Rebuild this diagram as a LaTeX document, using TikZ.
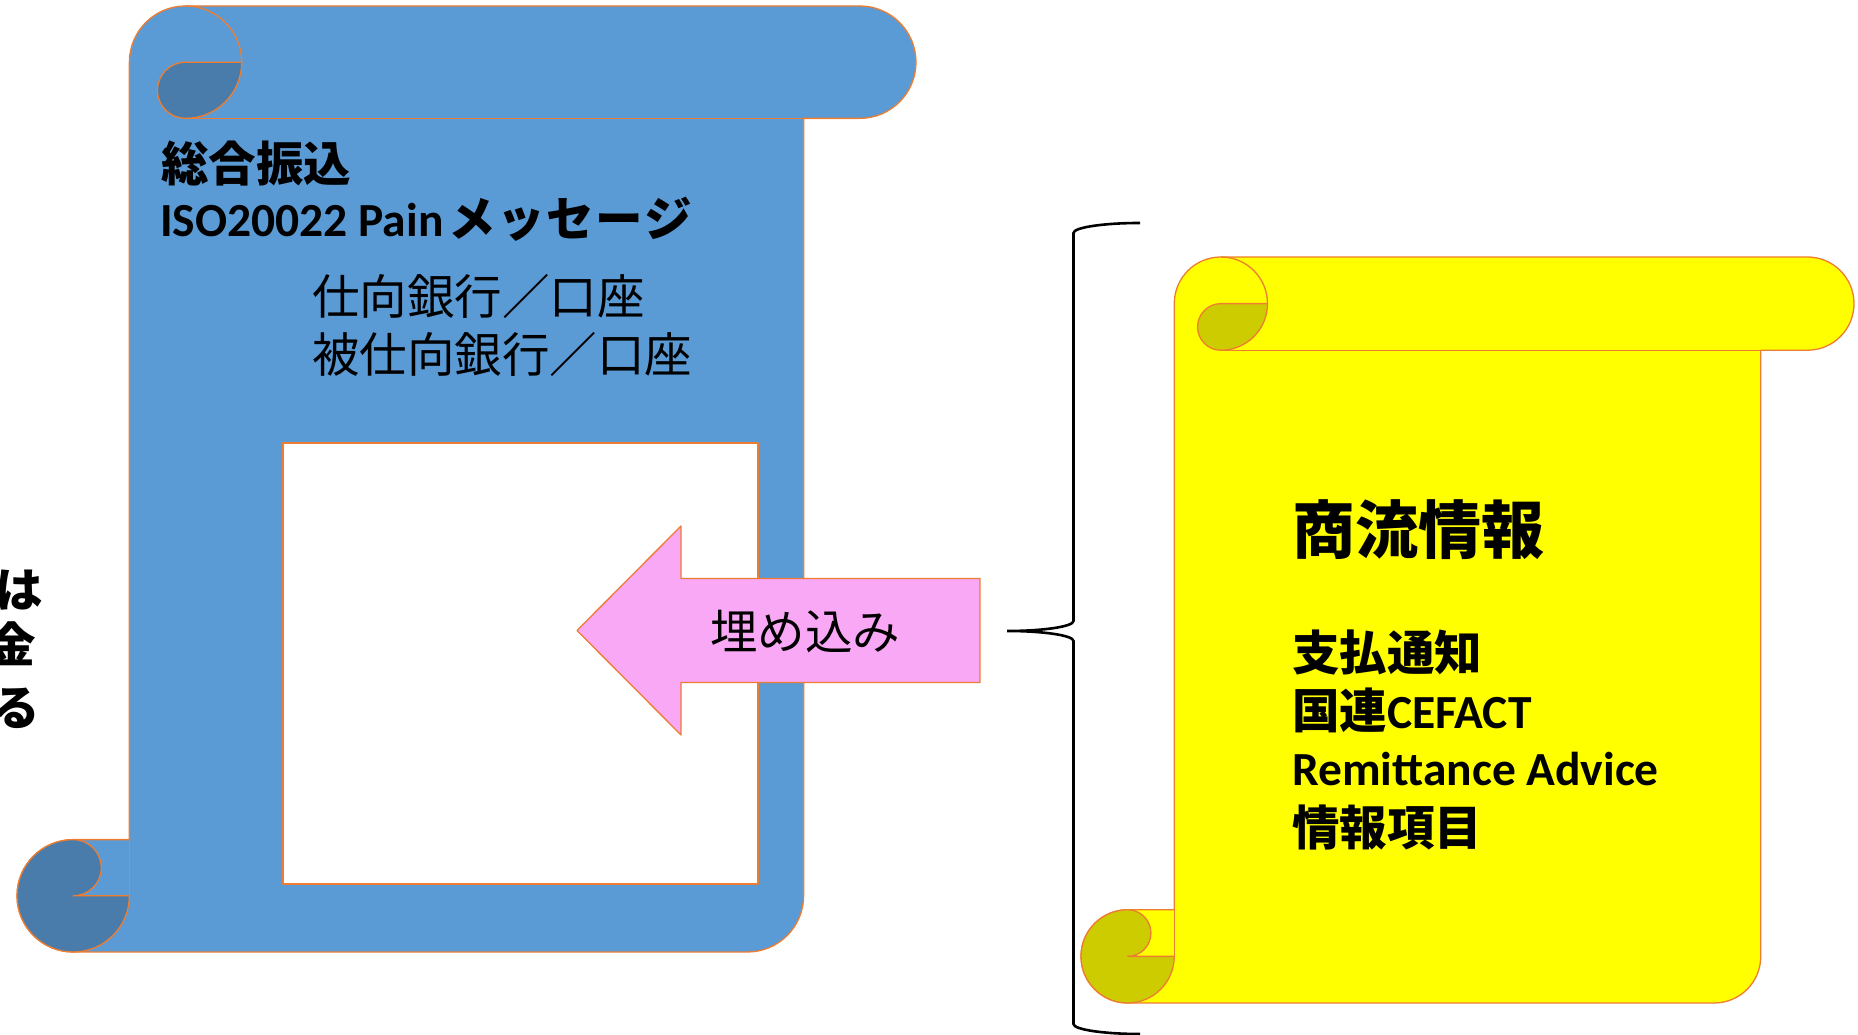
\documentclass[tikz,border=0pt]{standalone}
\usepackage{fontspec}
\newfontfamily\jp{Noto Sans CJK JP}
\newfontfamily\lat{Carlito}
\definecolor{sblue}{HTML}{5B9BD5}
\definecolor{sbluedk}{HTML}{497CAA}
\definecolor{syel}{HTML}{FFFF00}
\definecolor{syeldk}{HTML}{CCCC00}
\definecolor{sorange}{HTML}{ED7D31}
\definecolor{spink}{HTML}{F9A8F5}
\tikzset{
  outl/.style={draw=sorange, line width=1.3pt, line join=round},
  jptext/.style={inner sep=0pt, font=\fontsize{47.5}{58}\selectfont\jp, text=black},
  bracestyle/.style={draw=black, line width=2.6pt},
}
% draw a vertical scroll: l, t, w, h (pixel coords, y down), light, dark
\newcommand\drawscroll[6]{%
  \pgfmathsetmacro\scrL{#1}%
  \pgfmathsetmacro\scrR{#1+#3}%
  \pgfmathsetmacro\scrT{1035-#2}%
  \pgfmathsetmacro\scrB{1035-#2-#4}%
  \pgfmathsetmacro\scrC{0.125*min(#3,#4)}%
  \pgfmathsetmacro\scrH{\scrC/2}%
  \pgfmathsetmacro\scrQ{\scrC/4}%
  \path[outl, fill=#5] (\scrL+\scrC,\scrB+\scrC) -- (\scrL+\scrC,\scrT-\scrH)
    arc[start angle=180, end angle=90, radius=\scrH]
    -- (\scrR-\scrH,\scrT) arc[start angle=90, end angle=-90, radius=\scrH]
    -- (\scrR-\scrC,\scrT-\scrC) -- (\scrR-\scrC,\scrB+\scrH)
    arc[start angle=0, end angle=-90, radius=\scrH]
    -- (\scrL+\scrH,\scrB) arc[start angle=270, end angle=90, radius=\scrH]
    -- cycle;
  % top curl dark part
  \path[outl, fill=#6] (\scrL+1.5*\scrC,\scrT-\scrH) -- (\scrL+2*\scrC,\scrT-\scrH)
    arc[start angle=0, end angle=-90, radius=\scrH]
    arc[start angle=270, end angle=90, radius=\scrQ] -- cycle;
  % bottom curl dark part
  \path[outl, fill=#6] (\scrL+\scrH,\scrB+\scrC)
    arc[start angle=90, end angle=360, radius=\scrH]
    -- (\scrL+\scrH,\scrB+\scrH)
    arc[start angle=270, end angle=450, radius=\scrQ] -- cycle;
  % extra lines
  \draw[outl] (\scrL+1.5*\scrC,\scrT) arc[start angle=90, end angle=0, radius=\scrH];
  \draw[outl] (\scrL+1.5*\scrC,\scrT-\scrC) -- (\scrR-\scrC,\scrT-\scrC);
  \draw[outl] (\scrL+\scrC,\scrB+\scrC) -- (\scrL+\scrC,\scrB+\scrH);
}
\begin{document}
\begin{tikzpicture}[x=1pt,y=1pt]
\useasboundingbox (0,0) rectangle (1858,1035);
% left partially visible text
\node[jptext, font=\fontsize{47.5}{58}\selectfont\jp\bfseries, anchor=east] (lt1) at (43,445) {は};
\node[jptext, font=\fontsize{47.5}{58}\selectfont\jp\bfseries, anchor=east] (lt2) at (36,391) {金};
\node[jptext, font=\fontsize{47.5}{58}\selectfont\jp\bfseries, anchor=east] (lt3) at (40,327) {る};

% blue scroll
\drawscroll{17}{6}{899}{946}{sblue}{sbluedk}
\path[outl, fill=white] (283,592) rectangle (758,151);

% arrow
\path[outl, fill=spink] (577,404.5) -- (681,509) -- (681,456.5) -- (980,456.5)
  -- (980,352.5) -- (681,352.5) -- (681,300) -- cycle;
\node[jptext] (embed) at (805,403) {埋め込み};

% brace
\draw[bracestyle] (1140,812) arc[start angle=90, end angle=180, x radius=66.5, y radius=10]
  -- (1073.5,414) arc[start angle=0, end angle=-90, x radius=66.5, y radius=10]
  arc[start angle=90, end angle=0, x radius=66.5, y radius=10]
  -- (1073.5,11) arc[start angle=180, end angle=270, x radius=66.5, y radius=10];

% yellow scroll
\drawscroll{1081}{257}{773}{746}{syel}{syeldk}

% blue texts
\node[jptext, font=\fontsize{47.5}{58}\selectfont\jp\bfseries, anchor=base west] (t1) at (161,853.5) {総合振込};
\node[jptext, anchor=base west] (t2) at (160,798.5) {{\lat\bfseries ISO20022 Pain}\hspace{5pt}{\jp\bfseries メ\hspace{1.5pt}ッ\hspace{1.5pt}セ\hspace{1.5pt}ー\hspace{1.5pt}ジ}};
\node[jptext, anchor=base west] (t3) at (312,720.5) {仕向銀行／口座};
\node[jptext, anchor=base west] (t4) at (312,662.5) {被仕向銀行／口座};

% yellow texts
\node[jptext, font=\fontsize{63}{70}\selectfont\jp\bfseries, anchor=base west] (y1) at (1292,481) {商流情報};
\node[jptext, font=\fontsize{47.5}{58}\selectfont\jp\bfseries, anchor=base west] (y2) at (1292,364) {支払通知};
\node[jptext, anchor=base west] (y3) at (1292,306.5) {{\jp\bfseries 国連}{\lat\bfseries CEFACT}};
\node[jptext, anchor=base west] (y4) at (1292,249.5) {\lat\bfseries Remittance Advice};
\node[jptext, font=\fontsize{47.5}{58}\selectfont\jp\bfseries, anchor=base west] (y5) at (1292,189.5) {情報項目};
\end{tikzpicture}
\end{document}
